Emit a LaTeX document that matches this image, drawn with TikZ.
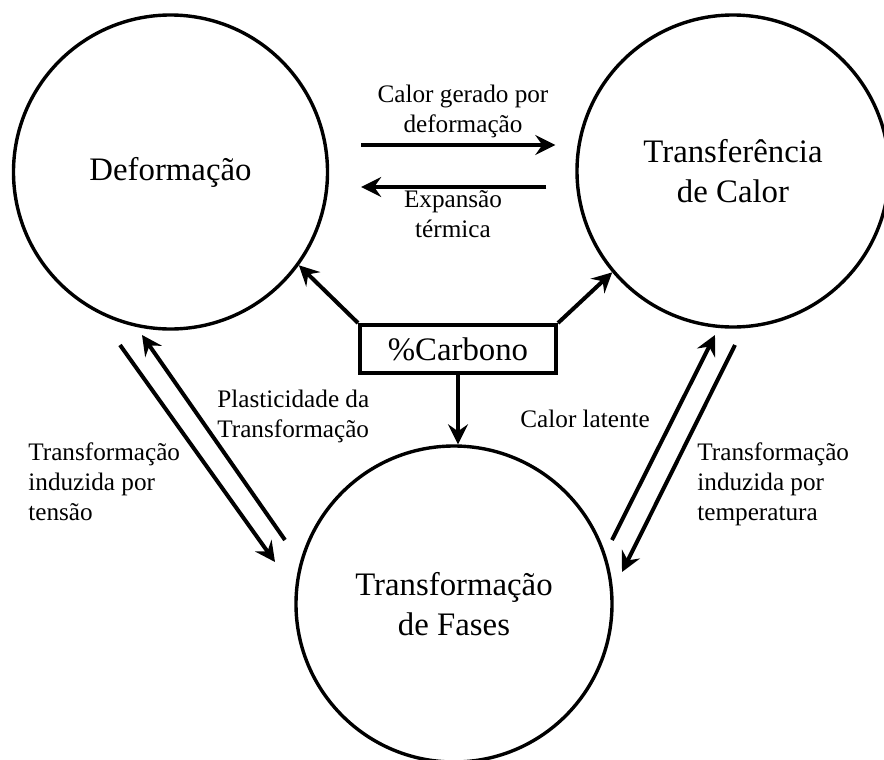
\documentclass[tikz,border=0pt]{standalone}
\usepackage{fontspec}
\setmainfont{Liberation Serif}
\usetikzlibrary{arrows.meta}

\begin{document}
\begin{tikzpicture}[x=0.5pt, y=-0.5pt,
    circ/.style={draw, circle, line width=1.7pt, inner sep=0pt, align=center,
        font=\fontsize{16.4}{20}\selectfont},
    carbbox/.style={draw, rectangle, line width=2pt, minimum width=98pt,
        minimum height=24pt, font=\fontsize{16.4}{20}\selectfont},
    lbl/.style={inner sep=0pt, font=\fontsize{12.6}{15}\selectfont},
    arr/.style={line width=2pt, -{Stealth[length=10pt, width=10pt, inset=3.5pt]}}]
    \useasboundingbox (0,0) rectangle (884,760);
    % the three fields
    \node [circ, minimum size=157pt] (def) at (170.5,172) {Deformação};
    \node [circ, minimum size=156pt] (tc) at (733,171) {Transferência\\de Calor};
    \node [circ, minimum size=158pt] (fas) at (454,604) {Transformação\\de Fases};
    \node [carbbox] (carb) at (458,349) {\%Carbono};
    % free ends of the coupling arrows
    \coordinate (dfa) at (120,345);
    \coordinate (dfb) at (275,562);
    \coordinate (fda) at (285,540);
    \coordinate (fdb) at (142,335);
    \coordinate (fta) at (612,540);
    \coordinate (ftb) at (715,335);
    \coordinate (tfa) at (735,345);
    \coordinate (tfb) at (622,572);
    % couplings
    \draw [arr, shorten <=16pt, shorten >=10pt] ([yshift=13.5pt]def.east) -- ([yshift=13.5pt]def.east -| tc.west);
    \draw [arr, shorten <=14.5pt, shorten >=16pt] ([yshift=-8pt]tc.west) -- ([yshift=-8pt]tc.west -| def.east);
    \draw [arr] (carb.north west) -- (def.-36);
    \draw [arr] (carb.north east) -- (tc.220);
    \draw [arr] (carb.south) -- (carb.south |- fas.north);
    \draw [arr] (dfa) -- (dfb);
    \draw [arr] (fda) -- (fdb);
    \draw [arr] (fta) -- (ftb);
    \draw [arr] (tfa) -- (tfb);
    % labels
    \node [lbl, align=center, anchor=base] (lcalor) at (463,132) {Calor gerado por\\deformação};
    \node [lbl, align=center, anchor=base] (lexp) at (453,237) {Expansão\\térmica};
    \node [lbl, align=left, anchor=base west] (lplas) at (217,437) {Plasticidade da\\Transformação};
    \node [lbl, align=left, anchor=base west] (lten) at (28,520) {Transformação\\induzida por\\tensão};
    \node [lbl, anchor=base west] (llat) at (520,427) {Calor latente};
    \node [lbl, align=left, anchor=base west] (ltemp) at (697,520) {Transformação\\induzida por\\temperatura};
\end{tikzpicture}
\end{document}
